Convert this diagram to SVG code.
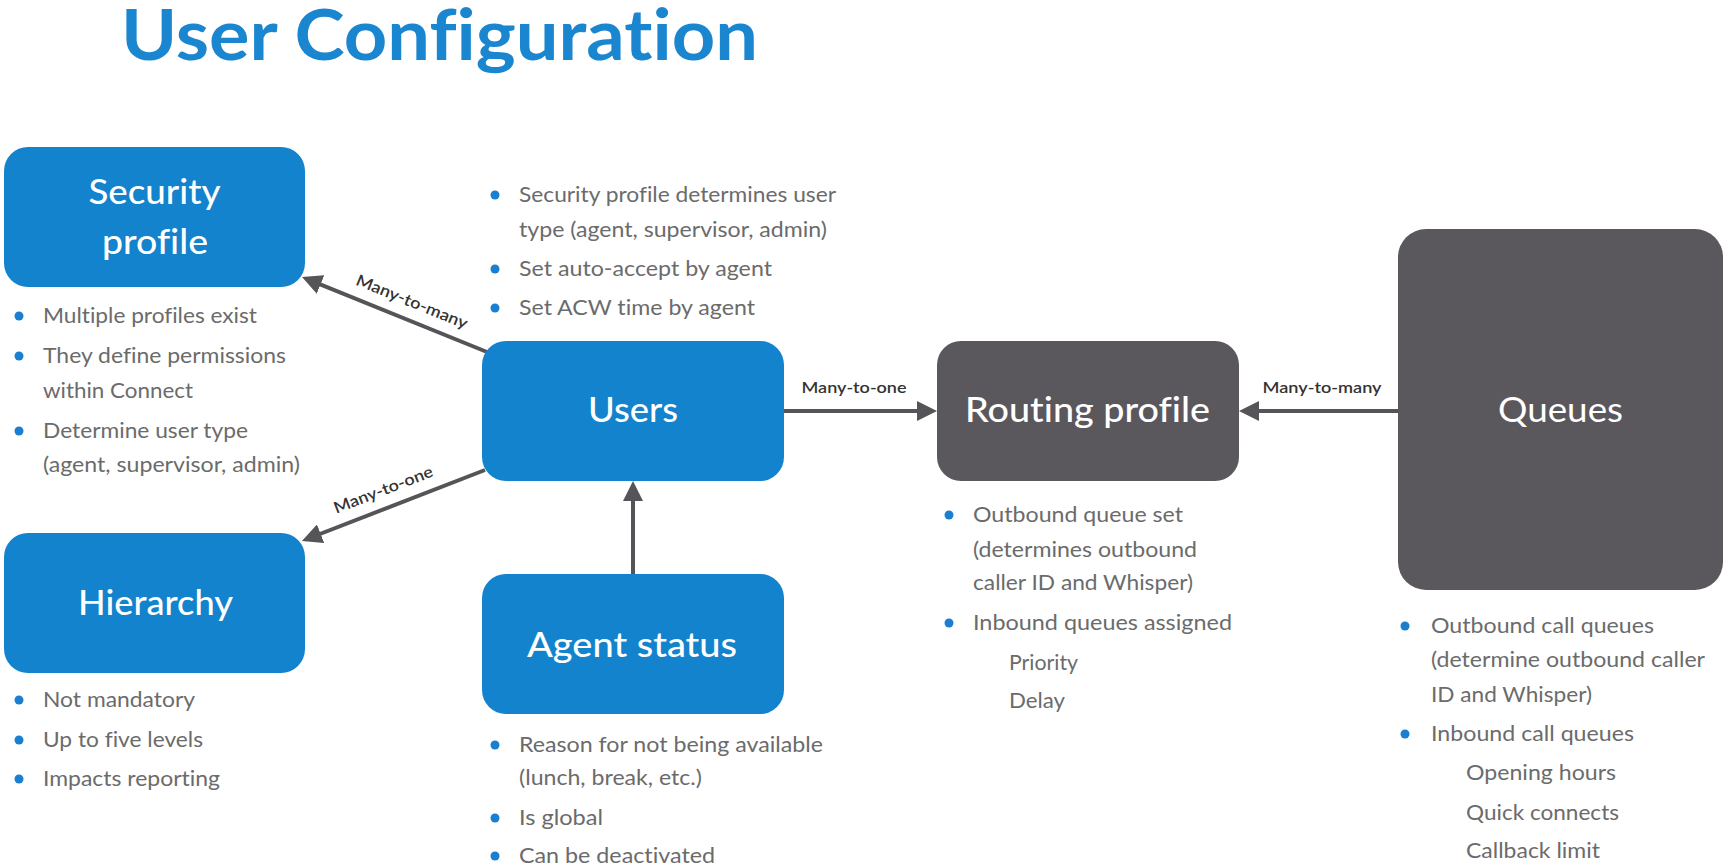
<svg xmlns="http://www.w3.org/2000/svg" width="1730" height="867" viewBox="0 0 1730 867">
  <style>
    text { font-variant-ligatures: none; }
    .title { font-family: Lato, "Liberation Sans", sans-serif; font-weight: 700; font-size: 71px; fill: #1a86d0; }
    .box-blue { fill: #1283cc; }
    .box-dark { fill: #5a585d; }
    .label { font-family: Lato, "Liberation Sans", sans-serif; font-weight: 500; font-size: 35px; fill: #ffffff; text-anchor: middle; }
    .label-light { font-weight: 400; }
    .note { font-family: Lato, "Liberation Sans", sans-serif; font-weight: 400; font-size: 21px; fill: #6b6b6b; }
    .note-lg { font-size: 22px; }
    .dot { fill: #1a7fd0; }
    .edge { stroke: #555458; stroke-width: 4; fill: none; marker-end: url(#arrow); }
    .edge-label { font-family: Lato, "Liberation Sans", sans-serif; font-weight: 600; font-size: 16px; fill: #333333; text-anchor: middle; }
  </style>
  <defs>
    <marker id="arrow" markerUnits="userSpaceOnUse" markerWidth="20" markerHeight="20" viewBox="0 0 20 20" refX="9" refY="10" orient="auto">
      <path d="M0,0 L20,10 L0,20 z" fill="#555458"/>
    </marker>
  </defs>

  <rect width="1730" height="867" fill="#ffffff"/>

  <text class="title" x="121" y="60" textLength="637" lengthAdjust="spacingAndGlyphs">User Configuration</text>

  <!-- connectors -->
  <g id="connectors">
    <line class="edge" x1="487" y1="352" x2="312.2" y2="281.1"/>
    <line class="edge" x1="485" y1="470" x2="312.2" y2="537"/>
    <line class="edge" x1="784" y1="411" x2="926" y2="411"/>
    <line class="edge" x1="1398" y1="411" x2="1250" y2="411"/>
    <line class="edge" x1="633" y1="574" x2="633" y2="492"/>

    <g transform="translate(405,318.8) rotate(22.07)">
      <text class="edge-label" x="0" y="-13" textLength="119" lengthAdjust="spacingAndGlyphs">Many-to-many</text>
    </g>
    <g transform="translate(390,507) rotate(-21.2)">
      <text class="edge-label" x="0" y="-13" textLength="105" lengthAdjust="spacingAndGlyphs">Many-to-one</text>
    </g>
    <text class="edge-label" x="854" y="393" textLength="105" lengthAdjust="spacingAndGlyphs">Many-to-one</text>
    <text class="edge-label" x="1322" y="393" textLength="119" lengthAdjust="spacingAndGlyphs">Many-to-many</text>
  </g>

  <!-- Security profile -->
  <g id="security-profile">
    <rect class="box-blue" x="4" y="147" width="301" height="140" rx="24"/>
    <text class="label" x="154.5" y="204" textLength="132" lengthAdjust="spacingAndGlyphs">Security</text>
    <text class="label" x="155" y="254" textLength="106" lengthAdjust="spacingAndGlyphs">profile</text>
    <circle class="dot" cx="19" cy="316" r="4.5"/>
    <text class="note" x="43" y="323" textLength="214" lengthAdjust="spacingAndGlyphs">Multiple profiles exist</text>
    <circle class="dot" cx="19" cy="356" r="4.5"/>
    <text class="note" x="43" y="363" textLength="243" lengthAdjust="spacingAndGlyphs">They define permissions</text>
    <text class="note" x="43" y="398" textLength="150" lengthAdjust="spacingAndGlyphs">within Connect</text>
    <circle class="dot" cx="19" cy="431" r="4.5"/>
    <text class="note" x="43" y="438" textLength="205" lengthAdjust="spacingAndGlyphs">Determine user type</text>
    <text class="note" x="43" y="472" textLength="257" lengthAdjust="spacingAndGlyphs">(agent, supervisor, admin)</text>
  </g>

  <!-- Users -->
  <g id="users">
    <rect class="box-blue" x="482" y="341" width="302" height="140" rx="24"/>
    <text class="label" x="633" y="422" textLength="90" lengthAdjust="spacingAndGlyphs">Users</text>
    <circle class="dot" cx="495" cy="195" r="4.5"/>
    <text class="note" x="519" y="202" textLength="317" lengthAdjust="spacingAndGlyphs">Security profile determines user</text>
    <text class="note" x="519" y="237" textLength="308" lengthAdjust="spacingAndGlyphs">type (agent, supervisor, admin)</text>
    <circle class="dot" cx="495" cy="269" r="4.5"/>
    <text class="note" x="519" y="276" textLength="253" lengthAdjust="spacingAndGlyphs">Set auto-accept by agent</text>
    <circle class="dot" cx="495" cy="308" r="4.5"/>
    <text class="note" x="519" y="315" textLength="236" lengthAdjust="spacingAndGlyphs">Set ACW time by agent</text>
  </g>

  <!-- Hierarchy -->
  <g id="hierarchy">
    <rect class="box-blue" x="4" y="533" width="301" height="140" rx="24"/>
    <text class="label" x="155.5" y="615" textLength="155" lengthAdjust="spacingAndGlyphs">Hierarchy</text>
    <circle class="dot" cx="19" cy="700" r="4.5"/>
    <text class="note" x="43" y="707" textLength="152" lengthAdjust="spacingAndGlyphs">Not mandatory</text>
    <circle class="dot" cx="19" cy="740" r="4.5"/>
    <text class="note" x="43" y="747" textLength="160" lengthAdjust="spacingAndGlyphs">Up to five levels</text>
    <circle class="dot" cx="19" cy="779" r="4.5"/>
    <text class="note" x="43" y="786" textLength="177" lengthAdjust="spacingAndGlyphs">Impacts reporting</text>
  </g>

  <!-- Agent status -->
  <g id="agent-status">
    <rect class="box-blue" x="482" y="574" width="302" height="140" rx="24"/>
    <text class="label" x="632" y="657" textLength="210" lengthAdjust="spacingAndGlyphs">Agent status</text>
    <circle class="dot" cx="495" cy="745" r="4.5"/>
    <text class="note" x="519" y="752" textLength="304" lengthAdjust="spacingAndGlyphs">Reason for not being available</text>
    <text class="note" x="519" y="785" textLength="183" lengthAdjust="spacingAndGlyphs">(lunch, break, etc.)</text>
    <circle class="dot" cx="495" cy="818" r="4.5"/>
    <text class="note" x="519" y="825" textLength="84" lengthAdjust="spacingAndGlyphs">Is global</text>
    <circle class="dot" cx="495" cy="856" r="4.5"/>
    <text class="note" x="519" y="863" textLength="196" lengthAdjust="spacingAndGlyphs">Can be deactivated</text>
  </g>

  <!-- Routing profile -->
  <g id="routing-profile">
    <rect class="box-dark" x="937" y="341" width="302" height="140" rx="24"/>
    <text class="label" x="1087.5" y="422" textLength="245" lengthAdjust="spacingAndGlyphs">Routing profile</text>
    <circle class="dot" cx="949" cy="515" r="4.5"/>
    <text class="note" x="973" y="522" textLength="210" lengthAdjust="spacingAndGlyphs">Outbound queue set</text>
    <text class="note" x="973" y="557" textLength="224" lengthAdjust="spacingAndGlyphs">(determines outbound</text>
    <text class="note" x="973" y="590" textLength="220" lengthAdjust="spacingAndGlyphs">caller ID and Whisper)</text>
    <circle class="dot" cx="949" cy="623" r="4.5"/>
    <text class="note" x="973" y="630" textLength="259" lengthAdjust="spacingAndGlyphs">Inbound queues assigned</text>
    <text class="note" x="1009" y="670" textLength="69" lengthAdjust="spacingAndGlyphs">Priority</text>
    <text class="note" x="1009" y="708" textLength="56" lengthAdjust="spacingAndGlyphs">Delay</text>
  </g>

  <!-- Queues -->
  <g id="queues">
    <rect class="box-dark" x="1398" y="229" width="325" height="361" rx="28"/>
    <text class="label label-light" x="1560.5" y="422" textLength="125" lengthAdjust="spacingAndGlyphs">Queues</text>
    <circle class="dot" cx="1405" cy="626" r="4.5"/>
    <text class="note note-lg" x="1431" y="633" textLength="223" lengthAdjust="spacingAndGlyphs">Outbound call queues</text>
    <text class="note note-lg" x="1431" y="667" textLength="274" lengthAdjust="spacingAndGlyphs">(determine outbound caller</text>
    <text class="note note-lg" x="1431" y="702" textLength="161" lengthAdjust="spacingAndGlyphs">ID and Whisper)</text>
    <circle class="dot" cx="1405" cy="734" r="4.5"/>
    <text class="note note-lg" x="1431" y="741" textLength="203" lengthAdjust="spacingAndGlyphs">Inbound call queues</text>
    <text class="note note-lg" x="1466" y="780" textLength="150" lengthAdjust="spacingAndGlyphs">Opening hours</text>
    <text class="note note-lg" x="1466" y="820" textLength="153" lengthAdjust="spacingAndGlyphs">Quick connects</text>
    <text class="note note-lg" x="1466" y="858" textLength="134" lengthAdjust="spacingAndGlyphs">Callback limit</text>
  </g>
</svg>
